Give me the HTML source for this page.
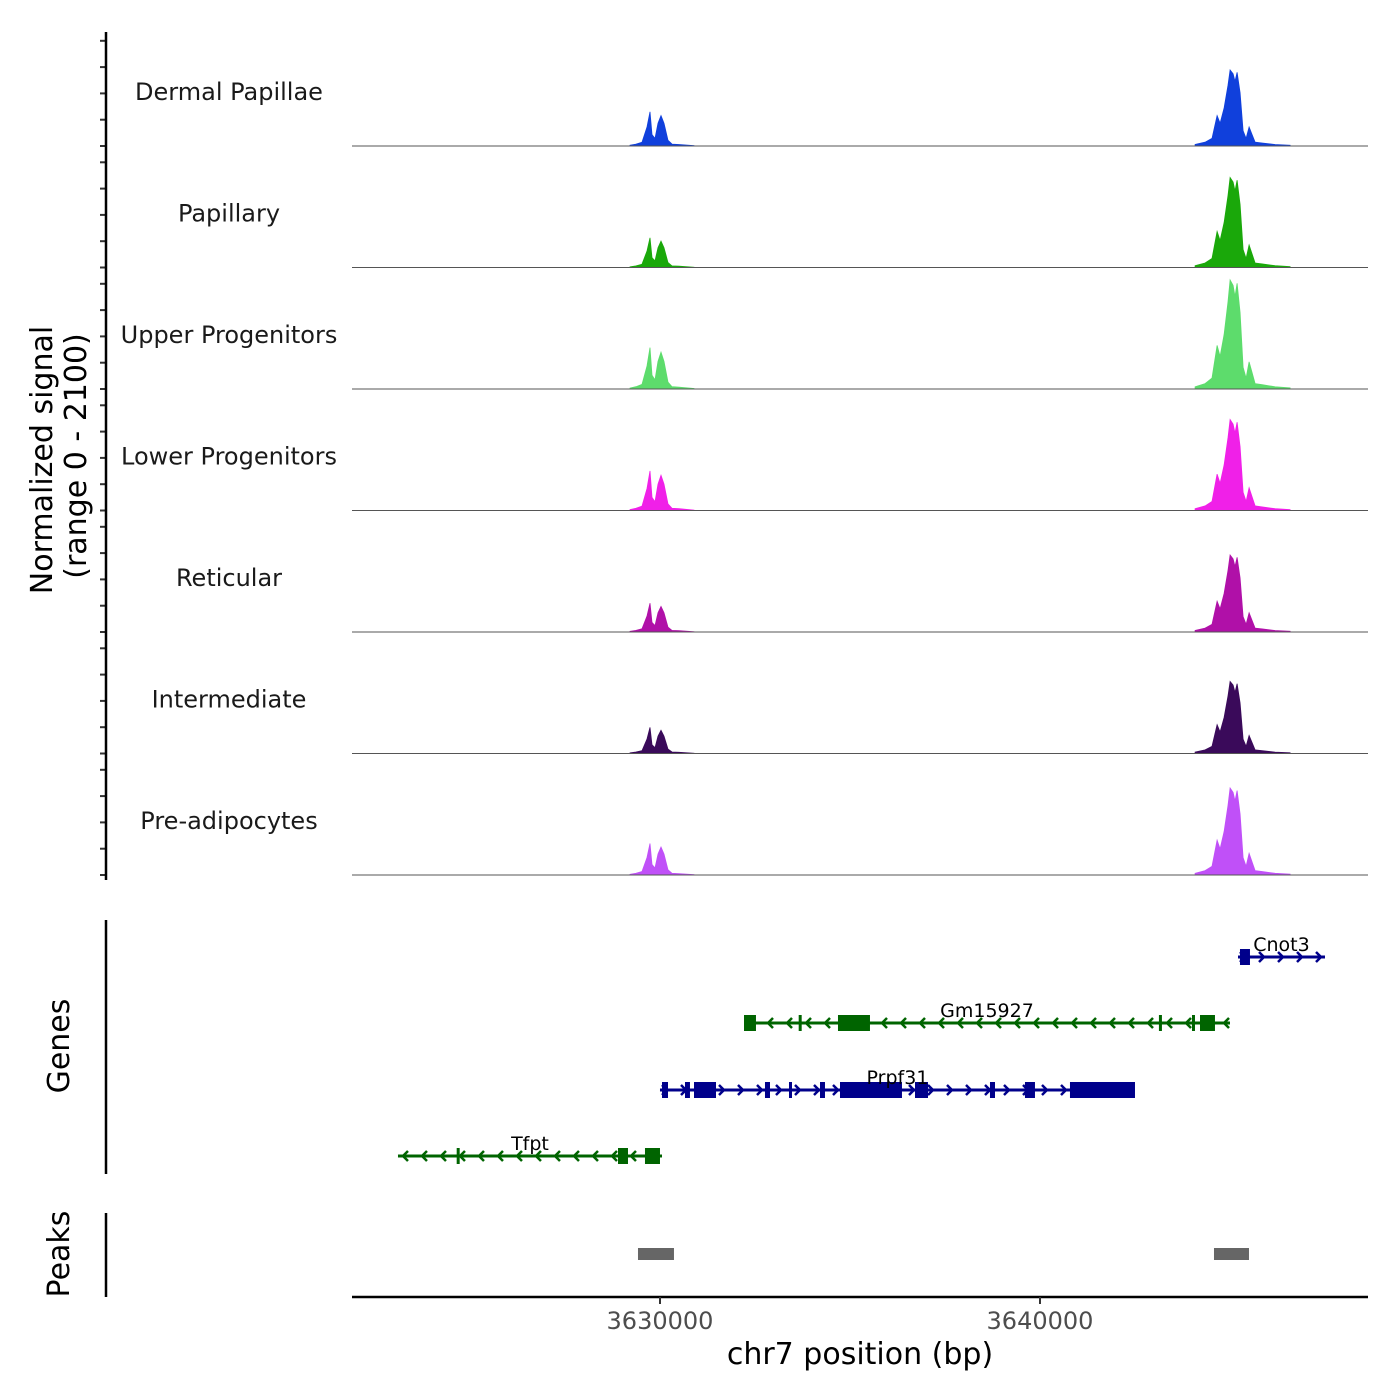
<!DOCTYPE html>
<html><head><meta charset="utf-8"><style>
html,body{margin:0;padding:0;background:#fff;}
svg{display:block;font-family:"DejaVu Sans","Liberation Sans",sans-serif;}
</style></head><body>
<svg id="chart" width="1400" height="1400" viewBox="0 0 1400 1400" xmlns="http://www.w3.org/2000/svg">
<g id="tracks"></g>
<g id="genes"></g>
<g id="peaks"></g>
<g id="axes"></g>
</svg>
<script>
// ---- data ----
const trackNames = ["Dermal Papillae","Papillary","Upper Progenitors","Lower Progenitors","Reticular","Intermediate","Pre-adipocytes"];
const trackColors = ["#1040dc","#1aa80a","#5ddc6c","#f020e8","#b010a8","#3a0a5a","#c050f8"];
const peak1Heights = [38,33,46,44,32,29,35];
const peak2Heights = [76,90,109,91,77,72,87];
const peak1Pos = [3629211,3629369,3629527,3629658,3629737,3629790,3629869,3629948,3630027,3630106,3630211,3630316,3630501,3630895];
const peak1Val = [0.02,0.05,0.1,0.5,0.9,0.3,0.2,0.6,0.8,0.6,0.15,0.05,0.04,0.01];
const peak2Pos = [3644081,3644344,3644528,3644660,3644739,3644844,3644949,3645002,3645081,3645133,3645186,3645265,3645344,3645423,3645502,3645581,3645660,3645844,3646186,3646581];
const peak2Val = [0.02,0.05,0.1,0.4,0.3,0.5,0.8,1.0,0.95,0.85,0.97,0.7,0.2,0.1,0.25,0.15,0.05,0.04,0.02,0.01];
const xTicks = [3630000,3640000];
const genes = [
 {name:"Cnot3",start:3645211,end:3647500,strand:1,row:0,exons:[[3645263,3645526]]},
 {name:"Gm15927",start:3632211,end:3645000,strand:-1,row:1,exons:[[3632211,3632526],[3633650,3633720],[3634684,3635526],[3643130,3643190],[3644000,3644060],[3644211,3644605]]},
 {name:"Prpf31",start:3630000,end:3642500,strand:1,row:2,exons:[[3630053,3630211],[3630658,3630789],[3630895,3631474],[3632763,3632895],[3633395,3633474],[3634211,3634342],[3634737,3636368],[3636711,3637053],[3638684,3638816],[3639605,3639868],[3640789,3642500]]},
 {name:"Tfpt",start:3623105,end:3630053,strand:-1,row:3,exons:[[3624650,3624720],[3628895,3629158],[3629605,3630000]]}
];
const peakRegions = [[3629421,3630368],[3644579,3645500]];
// ---- scales ----
const X0=352,X1=1368,B0=3621895,B1=3648632;
const xs = b => X0+(b-B0)/(B1-B0)*(X1-X0);
const NS="http://www.w3.org/2000/svg";
function mk(tag,attrs,parent){const e=document.createElementNS(NS,tag);for(const k in attrs)e.setAttribute(k,attrs[k]);parent.appendChild(e);return e;}
const T=document.getElementById('tracks'),G=document.getElementById('genes'),P=document.getElementById('peaks'),A=document.getElementById('axes');
const base0=146,trackH=121.5;
trackNames.forEach((nm,i)=>{
  const by=base0+i*trackH;
  const g=mk('g',{},T);
  
  
  const lbl=mk('text',{x:229,y:by-46,'text-anchor':'middle','font-size':24,fill:'#1a1a1a'},g);
  lbl.textContent=nm;
  
  
  [[peak1Pos,peak1Val,peak1Heights[i]],[peak2Pos,peak2Val,peak2Heights[i]]].forEach(([pp,pv,h],k)=>{
    let d='M'+xs(pp[0])+','+by;
    pp.forEach((p,j)=>{d+=' L'+xs(p).toFixed(1)+','+(by-pv[j]*h).toFixed(1);});
    d+=' L'+xs(pp[pp.length-1])+','+by+' Z';
    const pa=mk('path',{d:d,fill:trackColors[i],stroke:trackColors[i],'stroke-width':0.8},g);
    
    
  });
  const bl=mk('line',{x1:X0,x2:X1,y1:by,y2:by,stroke:'#555',"stroke-width":1},g);
  
  
  for(let t=0;t<5;t++){const ty=by-t*26.3;mk('line',{x1:100,x2:106,y1:ty,y2:ty,stroke:'#333','stroke-width':2},A);}
});
// genes
const rowY=[957,1023,1090,1156];
genes.forEach(gn=>{
  const col=gn.strand>0?'#00008b':'#006400';
  const y=rowY[gn.row];
  const g=mk('g',{},G);
  
  
  const x1=xs(gn.start),x2=xs(gn.end);
  mk('line',{x1:x1,x2:x2,y1:y,y2:y,stroke:col,'stroke-width':3},g);
  for(let ax=x1+6;ax<=x2-2;ax+=19){
    const d=gn.strand>0?`M${ax-4},${y-5} L${ax+1},${y} L${ax-4},${y+5}`:`M${ax+4},${y-5} L${ax-1},${y} L${ax+4},${y+5}`;
    mk('path',{d:d,fill:'none',stroke:col,'stroke-width':2.5},g);
  }
  gn.exons.forEach(e=>{
    const r=mk('rect',{x:xs(e[0]),y:y-8,width:Math.max(3,xs(e[1])-xs(e[0])),height:16,fill:col},g);
    
    
  });
  const t=mk('text',{x:(x1+x2)/2,y:y-6,'text-anchor':'middle','font-size':19,fill:'#000'},g);
  t.textContent=gn.name;
  
  
});
peakRegions.forEach(r=>{
  const e=mk('rect',{x:xs(r[0]),y:1248,width:xs(r[1])-xs(r[0]),height:12,fill:'#666'},P);
  
  
});
// axes
mk('line',{x1:106,x2:106,y1:32,y2:880,stroke:'#000','stroke-width':2.5},A);
mk('line',{x1:106,x2:106,y1:920,y2:1174,stroke:'#000','stroke-width':2.5},A);
mk('line',{x1:106,x2:106,y1:1213,y2:1297,stroke:'#000','stroke-width':2.5},A);
mk('line',{x1:X0,x2:X1,y1:1297,y2:1297,stroke:'#000','stroke-width':2.5},A);
xTicks.forEach(t=>{
  mk('line',{x1:xs(t),x2:xs(t),y1:1297,y2:1304,stroke:'#333','stroke-width':2},A);
  const tx=mk('text',{x:xs(t),y:1329,'text-anchor':'middle','font-size':24,fill:'#4d4d4d'},A);
  tx.textContent=t;
  
  
});
function lab(txt,x,y,size,rot,name){
  const t=mk('text',{x:x,y:y,'text-anchor':'middle','font-size':size,fill:'#000',transform:rot?`rotate(-90 ${x} ${y})`:''},A);
  t.textContent=txt;
  
  
}
lab('chr7 position (bp)',860,1364,30,false,'x-axis-title');
lab('Normalized signal',52,460,30,true,'y-axis-title');
lab('(range 0 - 2100)',86,456,30,true,'y-axis-range');
lab('Genes',69,1046,30,true,'genes-axis-title');
lab('Peaks',69,1254,30,true,'peaks-axis-title');
</script>
</body></html>
